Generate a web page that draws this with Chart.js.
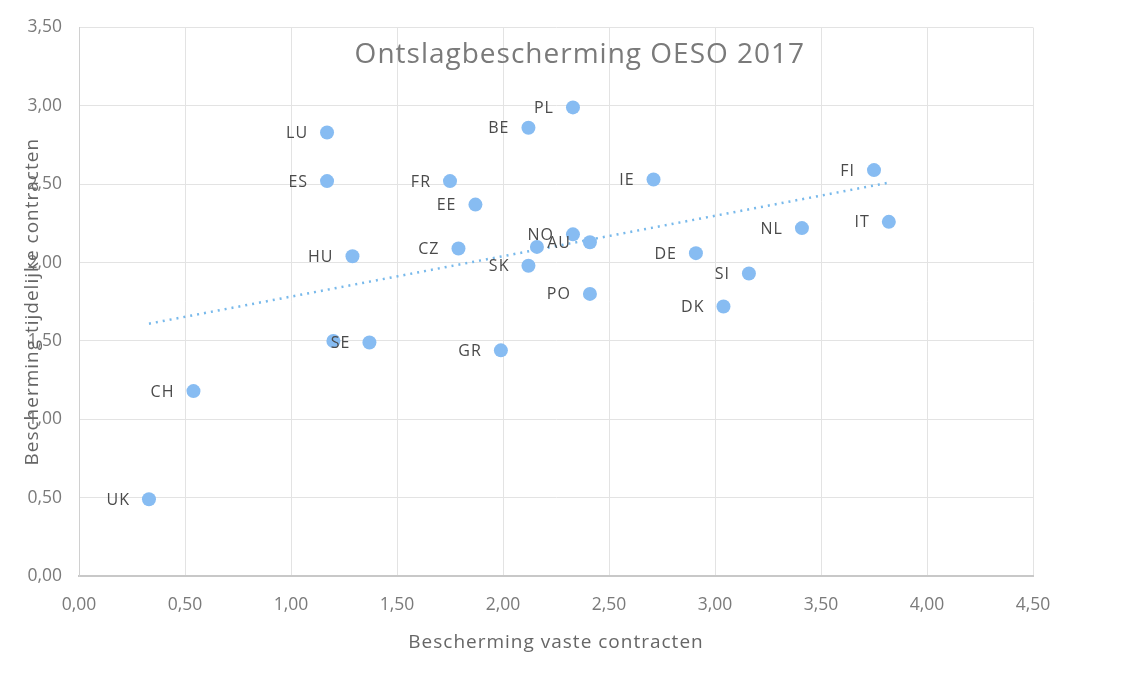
<!DOCTYPE html>
<html>
<head>
<meta charset="utf-8">
<title>Ontslagbescherming OESO 2017</title>
<script src="https://cdn.jsdelivr.net/npm/chart.js@4/dist/chart.umd.min.js"></script>
<style>
    html, body { margin: 0; padding: 0; background: #fff; }
    #wrap { position: relative; width: 1141px; height: 687px; }
</style>
</head>
<body>
<div id="wrap"><canvas id="oesoChart" width="1141" height="687"></canvas></div>
<script>
// ==========================================
// DATA
// ==========================================
const landen = ['LU', 'ES', 'FR', 'EE', 'CZ', 'HU', 'BE', 'PL', 'IE', 'FI', 'IT', 'NL', 'NO', 'AU', '',
                'DE', 'SI', 'DK', 'SK', 'PO', 'SE', '', 'GR', 'CH', 'UK'];
const vasteContracten = [1.17, 1.17, 1.75, 1.87, 1.79, 1.29, 2.12, 2.33, 2.71, 3.75, 3.82, 3.41, 2.33, 2.41, 2.16,
                         2.91, 3.16, 3.04, 2.12, 2.41, 1.37, 1.20, 1.99, 0.54, 0.33];
const tijdelijkeContracten = [2.83, 2.52, 2.52, 2.37, 2.09, 2.04, 2.86, 2.99, 2.53, 2.59, 2.26, 2.22, 2.18, 2.13, 2.10,
                              2.06, 1.93, 1.72, 1.98, 1.80, 1.49, 1.50, 1.44, 1.18, 0.49];
const trendX = [0.33, 3.82];
const trendY = [1.61, 2.51];

const xTicks = [0, 0.5, 1, 1.5, 2, 2.5, 3, 3.5, 4, 4.5];
const yTicks = [0, 0.5, 1, 1.5, 2, 2.5, 3, 3.5];

const FONT = "'Open Sans', Lato, sans-serif";

function komma(v) {
    return v.toFixed(2).replace('.', ',');
}

// labels links van de punten + titels
const labelPlugin = {
    id: 'labelPlugin',
    afterDatasetsDraw(chart) {
        const ctx = chart.ctx;
        const meta = chart.getDatasetMeta(0);
        ctx.save();
        ctx.font = '16px ' + FONT;
        ctx.fillStyle = '#4a4a4a';
        ctx.textAlign = 'right';
        ctx.textBaseline = 'middle';
        ctx.letterSpacing = '1px';
        meta.data.forEach((pt, i) => {
            if (landen[i]) ctx.fillText(landen[i], pt.x - 19, pt.y + 1);
        });
        ctx.restore();
    },
    afterDraw(chart) {
        const ctx = chart.ctx;
        const a = chart.chartArea;
        ctx.save();
        ctx.fillStyle = '#7a7a7a';
        ctx.textAlign = 'center';
        ctx.textBaseline = 'middle';
        ctx.font = '28px ' + FONT;
        ctx.letterSpacing = '1px';
        ctx.fillText('Ontslagbescherming OESO 2017', a.left + (a.right - a.left) * 0.525, 55);
        ctx.fillStyle = '#666';
        ctx.font = '19px ' + FONT;
        ctx.letterSpacing = '1px';
        ctx.fillText('Bescherming vaste contracten', (a.left + a.right) / 2, 643);
        ctx.translate(33, (a.top + a.bottom) / 2);
        ctx.rotate(-Math.PI / 2);
        ctx.fillText('Bescherming tijdelijke contracten', 0, 0);
        ctx.restore();
    }
};

new Chart(document.getElementById('oesoChart'), {
    type: 'scatter',
    data: {
        datasets: [
            {
                label: 'Ontslagbescherming',
                data: vasteContracten.map((x, i) => ({ x: x, y: tijdelijkeContracten[i] })),
                backgroundColor: 'rgb(135, 188, 242)',
                borderWidth: 0,
                pointRadius: 7,
                pointHoverRadius: 7
            },
            {
                label: 'Trend',
                type: 'line',
                data: trendX.map((x, i) => ({ x: x, y: trendY[i] })),
                borderColor: 'rgb(120, 185, 235)',
                borderWidth: 2.5,
                borderDash: [2, 5],
                pointRadius: 0,
                fill: false
            }
        ]
    },
    options: {
        responsive: false,
        animation: false,
        layout: { padding: { top: 26, right: 108, bottom: 0, left: 0 } },
        plugins: {
            legend: { display: false },
            title: { display: false },
            tooltip: { enabled: false }
        },
        scales: {
            x: {
                type: 'linear',
                min: 0,
                max: 4.5,
                afterBuildTicks: s => { s.ticks = xTicks.map(v => ({ value: v })); },
                afterFit: s => { s.height = 111; },
                grid: { color: '#e3e3e3', drawTicks: false },
                border: { color: '#c8c8c8', width: 2 },
                ticks: {
                    padding: 19,
                    color: '#7a7a7a',
                    font: { family: FONT, size: 17.5 },
                    callback: v => komma(v)
                }
            },
            y: {
                type: 'linear',
                min: 0,
                max: 3.5,
                afterBuildTicks: s => { s.ticks = yTicks.map(v => ({ value: v })); },
                afterFit: s => { s.width = 79; },
                grid: { color: '#e3e3e3', drawTicks: false },
                border: { color: '#d0d0d0' },
                ticks: {
                    padding: 17,
                    color: '#7a7a7a',
                    font: { family: FONT, size: 17.5 },
                    callback: v => komma(v)
                }
            }
        }
    },
    plugins: [labelPlugin]
});
</script>
</body>
</html>
